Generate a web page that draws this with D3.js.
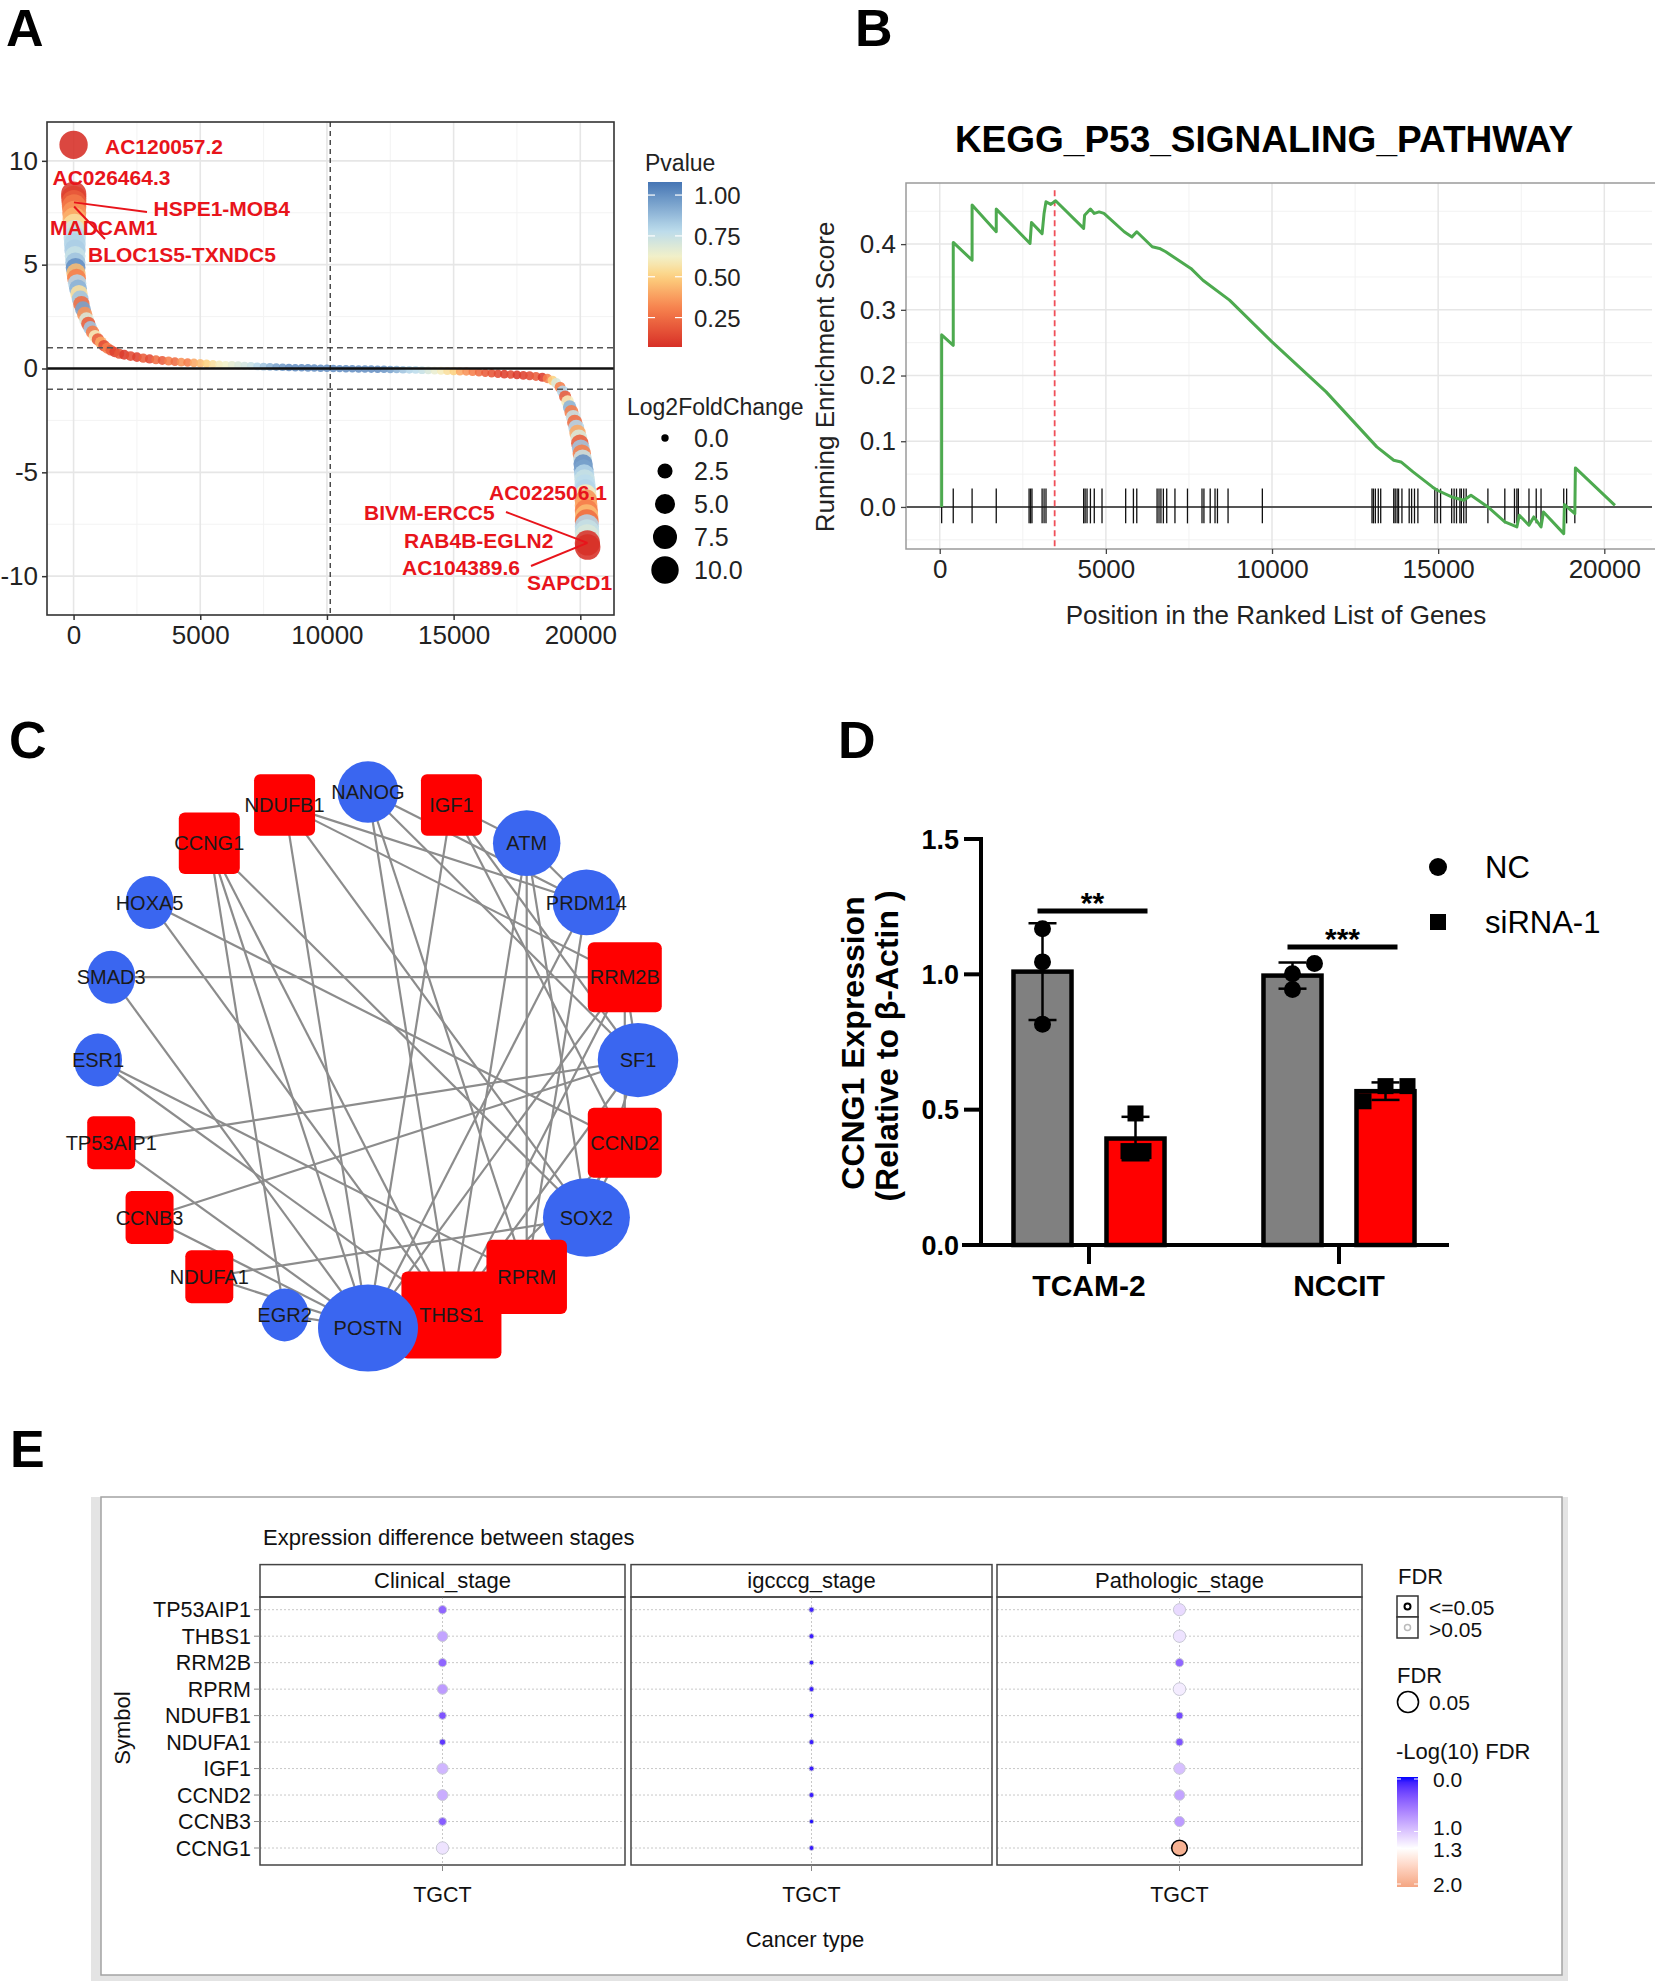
<!DOCTYPE html>
<html>
<head>
<meta charset="utf-8">
<script src="https://d3js.org/d3.v7.min.js"></script>
<style>
  body { margin: 0; background: #fff; }
  text { font-family: "Liberation Sans", Arial, Helvetica, sans-serif; }
</style>
</head>
<body>
<script>
// ---------- A: ranked log2 fold change ----------
var rankA = [0,5,10,15,20,25,30,35,40,45, 50,55,60,70,80,95,115,140,175,215,
  260,310,370,440,510,580,660,750,850,960, 1080,1200,1330,1470,1620,1800,2000,2250,2500,2750,
  3000,3250,3500,3750,4000,4250,4500,4750,5000,5250, 5500,5750,6000,6250,6500,6750,7000,7250,7500,7750,
  8000,8250,8500,8750,9000,9250,9500,9750,10000,10250, 10500,10750,11000,11250,11500,11750,12000,12250,12500,12750,
  13000,13250,13500,13750,14000,14250,14500,14750,15000,15250, 15500,15750,16000,16250,16500,16750,17000,17250,17500,17750,
  18000,18250,18500,18700,18900,19050,19200,19300,19400,19500, 19580,19650,19720,19780,19840,19890,19940,19980,20020,20060,
  20090,20110,20130,20150,20170,20185,20200,20210,20220,20230, 20240,20250,20255,20260,20265,20270,20280,20290];
var lfcA = [10.77,8.4,8.2,8.0,7.8,7.5,7.2,6.9,6.6,6.3, 6.0,5.7,5.4,5.1,4.85,4.6,4.35,4.1,3.85,3.6,
  3.35,3.1,2.85,2.6,2.35,2.15,1.95,1.75,1.55,1.4, 1.25,1.1,0.98,0.88,0.8,0.72,0.66,0.6,0.55,0.5,
  0.46,0.42,0.39,0.36,0.33,0.31,0.29,0.27,0.25,0.23, 0.21,0.19,0.17,0.16,0.15,0.13,0.12,0.1,0.09,0.08,
  0.07,0.06,0.05,0.04,0.035,0.03,0.02,0.015,0.01,0, -0.005,-0.01,-0.015,-0.02,-0.025,-0.03,-0.035,-0.04,-0.045,-0.05,
  -0.06,-0.065,-0.07,-0.08,-0.09,-0.1,-0.11,-0.12,-0.13,-0.14, -0.15,-0.17,-0.19,-0.21,-0.23,-0.25,-0.27,-0.29,-0.31,-0.33,
  -0.35,-0.38,-0.42,-0.48,-0.58,-0.7,-0.9,-1.1,-1.35,-1.6, -1.85,-2.1,-2.35,-2.6,-2.85,-3.1,-3.35,-3.6,-3.85,-4.1,
  -4.35,-4.6,-4.85,-5.1,-5.35,-5.6,-5.85,-6.1,-6.35,-6.6, -6.85,-7.1,-7.35,-7.6,-7.85,-8.1,-8.4,-8.6];
var pA = [0.06,0.1,0.12,0.2,0.28,0.35,0.42,0.55,0.72,0.78, 0.8,0.82,0.75,0.85,1.0,0.45,0.3,0.8,0.9,0.55,
  0.85,0.25,0.95,0.35,0.7,0.2,0.85,0.3,0.6,0.2, 0.4,0.15,0.3,0.2,0.12,0.18,0.1,0.15,0.12,0.2,
  0.15,0.25,0.2,0.3,0.25,0.35,0.3,0.4,0.45,0.5, 0.55,0.6,0.62,0.66,0.7,0.72,0.75,0.8,0.85,0.9,
  0.95,0.97,1,1,1,1,1,1,1,1, 1,1,1,1,1,1,1,0.98,0.95,0.9,
  0.85,0.8,0.78,0.75,0.7,0.65,0.6,0.55,0.5,0.4, 0.35,0.3,0.25,0.2,0.18,0.15,0.12,0.15,0.1,0.12,
  0.15,0.2,0.1,0.3,0.5,0.7,0.3,0.8,0.2,0.6, 0.9,0.3,0.75,0.25,0.8,0.4,0.7,0.2,0.85,0.3,
  0.75,1.0,0.95,0.8,0.75,0.78,0.8,0.6,0.35,0.4, 0.3,0.45,0.25,0.8,0.75,0.7,0.08,0.07];
var labelGeneA = ["AC120057.2","AC026464.3","HSPE1-MOB4","MADCAM1","BLOC1S5-TXNDC5",
  "AC022506.1","BIVM-ERCC5","RAB4B-EGLN2","AC104389.6","SAPCD1"];
var labelRankA = [0, 5, 15, 10, 20, 20280, 20280, 20280, 20280, 20290];
var labelLfcA = [10.77, 8.4, 8.0, 8.2, 7.8, -8.4, -8.4, -8.4, -8.4, -8.6];
var pvalTicks = [1.00, 0.75, 0.50, 0.25];
var sizeTicks = [0, 2.5, 5, 7.5, 10];

// ---------- B: GSEA running score ----------
var esX = [58,58,407,407,974,974,1701,1701,2718,2762,3081,3140,3198,3343,3488,4331,4360,4535,4651,4797,4942,
  5552,5785,5930,6395,6613,6802,7558,7921,8721,10000,11628,13154,13663,13881,14244,14826,14971,15407,15770,15988,
  16497,17006,17369,17442,17733,17878,18096,18169,18779,18800,19113,19130,20320];
var esY = [0,0.262,0.246,0.4025,0.3756,0.4594,0.4188,0.4533,0.401,0.433,0.416,0.4467,0.4645,0.4604,0.466,0.4239,0.444,0.4533,0.4467,0.449,0.4467,
  0.4188,0.411,0.4188,0.396,0.3934,0.3883,0.363,0.345,0.3147,0.2513,0.1751,0.0914,0.0711,0.0685,0.0533,0.0305,0.0254,0.0152,0.0102,0.0178,
  0,-0.0228,-0.0305,-0.0127,-0.0279,-0.0152,-0.0305,-0.0076,-0.0406,0.0036,-0.0102,0.0594,0.0025];
var hitsB = [58,407,974,1701,2689,2733,2776,3081,3140,3198,4331,4375,4433,4535,4651,4884,5596,5829,5930,
  6541,6599,6657,6730,6831,7079,7456,7893,7951,8140,8285,8358,8677,9709,13009,13052,13110,13198,13271,
  13663,13707,13765,13808,13910,14128,14201,14288,14390,14898,14971,15073,15407,15480,15552,15654,15698,
  15770,15843,16497,17006,17297,17369,17413,17733,17951,18096,18779,18866,19113];
var peakB = 3459;

// ---------- C: network ----------
var nodesC = ["NANOG","IGF1","ATM","PRDM14","RRM2B","SF1","CCND2","SOX2","RPRM","THBS1",
  "POSTN","EGR2","NDUFA1","CCNB3","TP53AIP1","ESR1","SMAD3","HOXA5","CCNG1","NDUFB1"];
var groupC = ["stem","p53","stem","stem","p53","stem","p53","stem","p53","p53",
  "stem","stem","p53","p53","p53","stem","stem","stem","p53","p53"];
var edgesC = [["HOXA5","CCND2"],["HOXA5","THBS1"],["SMAD3","RRM2B"],["SMAD3","POSTN"],["ESR1","RPRM"],
  ["ESR1","THBS1"],["TP53AIP1","SF1"],["TP53AIP1","POSTN"],["CCNB3","SF1"],["CCNB3","POSTN"],
  ["NDUFA1","SOX2"],["NDUFA1","POSTN"],["EGR2","POSTN"],["EGR2","CCNG1"],["NANOG","THBS1"],
  ["NANOG","RPRM"],["NANOG","PRDM14"],["NANOG","SF1"],["NDUFB1","POSTN"],["NDUFB1","SOX2"],
  ["NDUFB1","PRDM14"],["NDUFB1","RRM2B"],["IGF1","ATM"],["IGF1","POSTN"],["IGF1","SF1"],
  ["IGF1","CCND2"],["CCNG1","POSTN"],["CCNG1","SOX2"],["CCNG1","THBS1"],["ATM","THBS1"],
  ["ATM","RPRM"],["ATM","PRDM14"],["ATM","SOX2"],["PRDM14","POSTN"],["PRDM14","RPRM"],
  ["RRM2B","POSTN"],["RRM2B","THBS1"],["RRM2B","SF1"],["RRM2B","CCND2"],["SF1","SOX2"],
  ["CCND2","THBS1"],["CCND2","RPRM"],["CCND2","SOX2"],["SOX2","THBS1"],["RPRM","THBS1"],
  ["SF1","THBS1"],["RPRM","SOX2"]];

// ---------- D: qPCR ----------
var cellLines = ["TCAM-2","NCCIT"];
var treatments = ["NC","siRNA-1"];
var repD = {
  "TCAM-2": { "NC": [1.168, 1.046, 0.816], "siRNA-1": [0.486, 0.347, 0.347] },
  "NCCIT":  { "NC": [1.04, 1.002, 0.944],  "siRNA-1": [0.587, 0.587, 0.531] }
};
var sigD = ["**", "***"];
var sigLevelD = [1.234, 1.101];

// ---------- E: stage dot plot ----------
var genesE = ["TP53AIP1","THBS1","RRM2B","RPRM","NDUFB1","NDUFA1","IGF1","CCND2","CCNB3","CCNG1"];
var stagesE = ["Clinical_stage","igcccg_stage","Pathologic_stage"];
var logFdrClinical = [0.45,0.8,0.45,0.75,0.35,0.2,0.9,0.85,0.4,1.15];
var logFdrIgcccg = [0.1,0.08,0.06,0.08,0.07,0.08,0.08,0.08,0.03,0.07];
var logFdrPathologic = [1.1,1.15,0.45,1.2,0.3,0.35,0.95,0.8,0.75,1.9];
var fdrTicks = [0, 1.0, 1.3, 2.0];

var svg = d3.select("body").append("svg")
  .attr("width", 1655).attr("height", 1981);
svg.append("rect").attr("width", 1655).attr("height", 1981).attr("fill", "#fff");

// panel letters
[["A", 6, 46], ["B", 855, 46], ["C", 9, 758], ["D", 838, 758], ["E", 10, 1467]].forEach(function(l) {
  svg.append("text").attr("x", l[1]).attr("y", l[2]).text(l[0])
    .attr("font-size", 52).attr("font-weight", "bold").attr("fill", "#000");
});

// ================= PANEL A =================
var gA = svg.append("g");
var aX = d3.scaleLinear().domain([-1049, 21330]).range([47, 614]);
var aY = d3.scaleLinear().domain([-11.87, 11.87]).range([615, 122]);
var aR = d3.scaleRadial().domain([0, 10]).range([3.7, 13.7]);
var aC = d3.scaleLinear().domain([0.07, 0.3, 0.5, 0.62, 0.78, 1.08])
  .range(["#D73027", "#F67E4B", "#FDD17F", "#F3F1C8", "#BCDCEC", "#4575B4"]);

[2500, 7500, 12500, 17500].forEach(function(v) {
  gA.append("line").attr("x1", aX(v)).attr("x2", aX(v)).attr("y1", 122).attr("y2", 615)
    .attr("stroke", "#F3F3F3").attr("stroke-width", 1);
});
[-7.5, -2.5, 2.5, 7.5].forEach(function(v) {
  gA.append("line").attr("x1", 47).attr("x2", 614).attr("y1", aY(v)).attr("y2", aY(v))
    .attr("stroke", "#F3F3F3").attr("stroke-width", 1);
});
[0, 5000, 10000, 15000, 20000].forEach(function(v) {
  gA.append("line").attr("x1", aX(v)).attr("x2", aX(v)).attr("y1", 122).attr("y2", 615)
    .attr("stroke", "#E6E6E6").attr("stroke-width", 1.6);
});
[-10, -5, 0, 5, 10].forEach(function(v) {
  gA.append("line").attr("x1", 47).attr("x2", 614).attr("y1", aY(v)).attr("y2", aY(v))
    .attr("stroke", "#E6E6E6").attr("stroke-width", 1.6);
});

gA.selectAll("circle.pt").data(d3.range(rankA.length)).join("circle")
  .attr("class", "pt")
  .attr("cx", function(i) { return aX(rankA[i]); })
  .attr("cy", function(i) { return aY(lfcA[i]); })
  .attr("r", function(i) { return aR(Math.abs(lfcA[i])); })
  .attr("fill", function(i) { return aC(pA[i]); })
  .attr("fill-opacity", 0.88);

// threshold lines
[1, -1].forEach(function(v) {
  gA.append("line").attr("x1", 47).attr("x2", 614).attr("y1", aY(v)).attr("y2", aY(v))
    .attr("stroke", "#555").attr("stroke-width", 1.5).attr("stroke-dasharray", "6,4");
});
gA.append("line").attr("x1", aX(10130)).attr("x2", aX(10130)).attr("y1", 122).attr("y2", 615)
  .attr("stroke", "#333").attr("stroke-width", 1.3).attr("stroke-dasharray", "5,4");
gA.append("line").attr("x1", 47).attr("x2", 614).attr("y1", aY(0)).attr("y2", aY(0))
  .attr("stroke", "#111").attr("stroke-width", 2.5);
gA.append("rect").attr("x", 47).attr("y", 122).attr("width", 567).attr("height", 493)
  .attr("fill", "none").attr("stroke", "#333").attr("stroke-width", 1.6);

// axes
var axAL = gA.append("g").attr("transform", "translate(47,0)")
  .call(d3.axisLeft(aY).tickValues([-10, -5, 0, 5, 10]).tickSize(5).tickPadding(4)
    .tickFormat(function(d) { return String(d); }));
var axAB = gA.append("g").attr("transform", "translate(0,615)")
  .call(d3.axisBottom(aX).tickValues([0, 5000, 10000, 15000, 20000]).tickSize(5).tickPadding(6)
    .tickFormat(function(d) { return String(d); }));
[axAL, axAB].forEach(function(ax) {
  ax.select(".domain").remove();
  ax.selectAll("line").attr("stroke", "#333").attr("stroke-width", 1.5);
  ax.selectAll("text").attr("font-size", 26).attr("fill", "#222")
    .style("font-family", "'Liberation Sans', Arial, sans-serif");
});

// gene labels
var labelPosA = [[105, 153.5], [52.5, 184.5], [153.5, 215.5], [50, 235], [88, 262],
  [489, 500], [364, 519.5], [404, 548], [402, 575], [527, 589.5]];
var leaderA = { "HSPE1-MOB4": [147, 212], "BLOC1S5-TXNDC5": [105, 239], "BIVM-ERCC5": [506, 512], "AC104389.6": [531, 566] };
labelGeneA.forEach(function(g, i) {
  if (leaderA[g]) {
    gA.append("line").attr("x1", leaderA[g][0]).attr("y1", leaderA[g][1])
      .attr("x2", aX(labelRankA[i])).attr("y2", aY(labelLfcA[i]))
      .attr("stroke", "#E8141B").attr("stroke-width", 2);
  }
});
labelGeneA.forEach(function(g, i) {
  gA.append("text").attr("x", labelPosA[i][0]).attr("y", labelPosA[i][1]).text(g)
    .attr("font-size", 21).attr("font-weight", "bold").attr("fill", "#E8141B");
});

// Pvalue legend
var defs = svg.append("defs");
var pBar = d3.scaleLinear().domain([0.07, 1.08]).range([347, 182]);
var gradA = defs.append("linearGradient").attr("id", "gradP")
  .attr("x1", 0).attr("y1", 1).attr("x2", 0).attr("y2", 0);
d3.range(0, 1.0001, 0.05).forEach(function(t) {
  var v = 0.07 + t * (1.08 - 0.07);
  gradA.append("stop").attr("offset", t).attr("stop-color", aC(v));
});
gA.append("text").attr("x", 645).attr("y", 171).text("Pvalue").attr("font-size", 23).attr("fill", "#222");
gA.append("rect").attr("x", 648).attr("y", 182).attr("width", 34).attr("height", 165).attr("fill", "url(#gradP)");
pvalTicks.forEach(function(v) {
  gA.append("line").attr("x1", 648).attr("x2", 655).attr("y1", pBar(v)).attr("y2", pBar(v)).attr("stroke", "#fff").attr("stroke-width", 1.2);
  gA.append("line").attr("x1", 675).attr("x2", 682).attr("y1", pBar(v)).attr("y2", pBar(v)).attr("stroke", "#fff").attr("stroke-width", 1.2);
  gA.append("text").attr("x", 694).attr("y", pBar(v) + 9).text(v.toFixed(2))
    .attr("font-size", 24).attr("fill", "#222");
});
gA.append("text").attr("x", 627).attr("y", 415).text("Log2FoldChange").attr("font-size", 23).attr("fill", "#222");
sizeTicks.forEach(function(v, i) {
  var y = 438 + i * 33;
  gA.append("circle").attr("cx", 665).attr("cy", y).attr("r", aR(v)).attr("fill", "#000");
  gA.append("text").attr("x", 694).attr("y", y + 9).text(v.toFixed(1)).attr("font-size", 25).attr("fill", "#222");
});

// ================= PANEL B =================
var gB = svg.append("g");
var bX = d3.scaleLinear().domain([-1015, 21315]).range([906, 1648]);
var bY = d3.scaleLinear().domain([-0.064, 0.493]).range([549, 183]);
gB.append("text").attr("x", 1264).attr("y", 152).attr("text-anchor", "middle")
  .text("KEGG_P53_SIGNALING_PATHWAY").attr("font-size", 37).attr("font-weight", "bold").attr("fill", "#000");
[2500, 7500, 12500, 17500].forEach(function(v) {
  gB.append("line").attr("x1", bX(v)).attr("x2", bX(v)).attr("y1", 183).attr("y2", 549).attr("stroke", "#F2F2F2").attr("stroke-width", 1);
});
[-0.05, 0.05, 0.15, 0.25, 0.35, 0.45].forEach(function(v) {
  gB.append("line").attr("x1", 906).attr("x2", 1652).attr("y1", bY(v)).attr("y2", bY(v)).attr("stroke", "#F2F2F2").attr("stroke-width", 1);
});
[0, 5000, 10000, 15000, 20000].forEach(function(v) {
  gB.append("line").attr("x1", bX(v)).attr("x2", bX(v)).attr("y1", 183).attr("y2", 549).attr("stroke", "#E6E6E6").attr("stroke-width", 1.5);
});
[0.1, 0.2, 0.3, 0.4].forEach(function(v) {
  gB.append("line").attr("x1", 906).attr("x2", 1652).attr("y1", bY(v)).attr("y2", bY(v)).attr("stroke", "#E6E6E6").attr("stroke-width", 1.5);
});
gB.append("line").attr("x1", 906).attr("x2", 1652).attr("y1", bY(0)).attr("y2", bY(0))
  .attr("stroke", "#555").attr("stroke-width", 2);
gB.selectAll("line.hit").data(hitsB).join("line").attr("class", "hit")
  .attr("x1", function(d) { return bX(d); }).attr("x2", function(d) { return bX(d); })
  .attr("y1", bY(0.028)).attr("y2", bY(-0.025))
  .attr("stroke", "#111").attr("stroke-width", 1.3);
gB.append("line").attr("x1", bX(peakB)).attr("x2", bX(peakB)).attr("y1", bY(0.482)).attr("y2", 549)
  .attr("stroke", "#F0505A").attr("stroke-width", 1.8).attr("stroke-dasharray", "6,4");
gB.append("path").datum(d3.range(esX.length))
  .attr("d", d3.line().x(function(i) { return bX(esX[i]); }).y(function(i) { return bY(esY[i]); }))
  .attr("fill", "none").attr("stroke", "#4DAA4F").attr("stroke-width", 3).attr("stroke-linejoin", "round");
gB.append("rect").attr("x", 906).attr("y", 183).attr("width", 760).attr("height", 366)
  .attr("fill", "none").attr("stroke", "#9A9A9A").attr("stroke-width", 1.5);
var axBL = gB.append("g").attr("transform", "translate(906,0)")
  .call(d3.axisLeft(bY).tickValues([0, 0.1, 0.2, 0.3, 0.4]).tickSize(5).tickPadding(5).tickFormat(d3.format(".1f")));
var axBB = gB.append("g").attr("transform", "translate(0,549)")
  .call(d3.axisBottom(bX).tickValues([0, 5000, 10000, 15000, 20000]).tickSize(5).tickPadding(6)
    .tickFormat(function(d) { return String(d); }));
[axBL, axBB].forEach(function(ax) {
  ax.select(".domain").remove();
  ax.selectAll("line").attr("stroke", "#444").attr("stroke-width", 1.3);
  ax.selectAll("text").attr("font-size", 26).attr("fill", "#222")
    .style("font-family", "'Liberation Sans', Arial, sans-serif");
});
gB.append("text").attr("transform", "translate(834,377) rotate(-90)").attr("text-anchor", "middle")
  .text("Running Enrichment Score").attr("font-size", 26).attr("fill", "#222");
gB.append("text").attr("x", 1276).attr("y", 624).attr("text-anchor", "middle")
  .text("Position in the Ranked List of Genes").attr("font-size", 26).attr("fill", "#222");

// ================= PANEL C =================
var gC = svg.append("g");
var degC = {};
nodesC.forEach(function(n) { degC[n] = 0; });
edgesC.forEach(function(e) { degC[e[0]]++; degC[e[1]]++; });
var angC = d3.scaleLinear().domain([0, nodesC.length]).range([0, 2 * Math.PI]);
var posC = {};
nodesC.forEach(function(n, i) {
  posC[n] = [368 + 270 * Math.sin(angC(i)), 1060 - 268 * Math.cos(angC(i))];
});
var wC = d3.scaleLinear().domain([2, 10]).range([48, 100]);
var hC = d3.scaleLinear().domain([2, 10]).range([53, 87]);
gC.selectAll("line.edge").data(edgesC).join("line").attr("class", "edge")
  .attr("x1", function(e) { return posC[e[0]][0]; }).attr("y1", function(e) { return posC[e[0]][1]; })
  .attr("x2", function(e) { return posC[e[1]][0]; }).attr("y2", function(e) { return posC[e[1]][1]; })
  .attr("stroke", "#8C8C8C").attr("stroke-width", 2.2);
nodesC.forEach(function(n, i) {
  var p = posC[n], w = wC(degC[n]), h = hC(degC[n]);
  if (groupC[i] === "p53") {
    gC.append("rect").attr("x", p[0] - w / 2).attr("y", p[1] - h / 2).attr("width", w).attr("height", h)
      .attr("rx", 6).attr("fill", "#FF0000");
  } else {
    gC.append("ellipse").attr("cx", p[0]).attr("cy", p[1]).attr("rx", w / 2).attr("ry", h / 2)
      .attr("fill", "#3A66F0");
  }
});
nodesC.forEach(function(n) {
  gC.append("text").attr("x", posC[n][0]).attr("y", posC[n][1]).attr("dy", "0.36em")
    .attr("text-anchor", "middle").text(n).attr("font-size", 20).attr("fill", "#1A1A1A");
});

// ================= PANEL D =================
var gD = svg.append("g");
var dY = d3.scaleLinear().domain([0, 1.5]).range([1245, 839]);
var dX = d3.scaleBand().domain(cellLines).range([964, 1464]);
var dInner = d3.scaleBand().domain(treatments).range([-93, 93]).paddingInner(0.376).paddingOuter(0.188);
var fillD = { "NC": "#808080", "siRNA-1": "#FF0000" };
var jitterD = { "TCAM-2": { "NC": [0, 0, 0], "siRNA-1": [0, -7, 8] },
                "NCCIT":  { "NC": [22, 0, 0], "siRNA-1": [0, 22, -22] } };
cellLines.forEach(function(c) {
  treatments.forEach(function(t) {
    var vals = repD[c][t];
    var m = d3.mean(vals), sd = d3.deviation(vals);
    var x0 = dX(c) + dX.bandwidth() / 2 + dInner(t);
    var cx = x0 + dInner.bandwidth() / 2;
    gD.append("rect").attr("x", x0).attr("y", dY(m)).attr("width", dInner.bandwidth())
      .attr("height", dY(0) - dY(m)).attr("fill", fillD[t]).attr("stroke", "#000").attr("stroke-width", 4.5);
    gD.append("line").attr("x1", cx).attr("x2", cx).attr("y1", dY(m - sd)).attr("y2", dY(m + sd))
      .attr("stroke", "#000").attr("stroke-width", 2.5);
    [m - sd, m + sd].forEach(function(v) {
      gD.append("line").attr("x1", cx - 14).attr("x2", cx + 14).attr("y1", dY(v)).attr("y2", dY(v))
        .attr("stroke", "#000").attr("stroke-width", 2.5);
    });
    vals.forEach(function(v, k) {
      var px = cx + jitterD[c][t][k];
      if (t === "NC") {
        gD.append("circle").attr("cx", px).attr("cy", dY(v)).attr("r", 8.5).attr("fill", "#000");
      } else {
        gD.append("rect").attr("x", px - 8).attr("y", dY(v) - 8).attr("width", 16).attr("height", 16).attr("fill", "#000");
      }
    });
  });
});
gD.append("line").attr("x1", 981).attr("x2", 981).attr("y1", 837).attr("y2", 1247).attr("stroke", "#000").attr("stroke-width", 4);
gD.append("line").attr("x1", 962).attr("x2", 1449).attr("y1", 1245).attr("y2", 1245).attr("stroke", "#000").attr("stroke-width", 4);
[0, 0.5, 1.0, 1.5].forEach(function(v) {
  gD.append("line").attr("x1", 964).attr("x2", 981).attr("y1", dY(v)).attr("y2", dY(v)).attr("stroke", "#000").attr("stroke-width", 4);
  gD.append("text").attr("x", 959).attr("y", dY(v)).attr("dy", "0.36em").attr("text-anchor", "end")
    .text(v.toFixed(1)).attr("font-size", 27).attr("font-weight", "bold").attr("fill", "#000");
});
cellLines.forEach(function(c) {
  var cx = dX(c) + dX.bandwidth() / 2;
  gD.append("line").attr("x1", cx).attr("x2", cx).attr("y1", 1245).attr("y2", 1264).attr("stroke", "#000").attr("stroke-width", 4);
  gD.append("text").attr("x", cx).attr("y", 1296).attr("text-anchor", "middle").text(c)
    .attr("font-size", 30).attr("font-weight", "bold").attr("fill", "#000");
});
cellLines.forEach(function(c, i) {
  var cx = dX(c) + dX.bandwidth() / 2;
  var xa = cx + dInner("NC") + dInner.bandwidth() / 2 - 5;
  var xb = cx + dInner("siRNA-1") + dInner.bandwidth() / 2 + 12;
  gD.append("line").attr("x1", xa).attr("x2", xb).attr("y1", dY(sigLevelD[i])).attr("y2", dY(sigLevelD[i]))
    .attr("stroke", "#000").attr("stroke-width", 5);
  gD.append("text").attr("x", (xa + xb) / 2).attr("y", dY(sigLevelD[i]) + 2).attr("text-anchor", "middle")
    .text(sigD[i]).attr("font-size", 30).attr("font-weight", "bold").attr("fill", "#000");
});
gD.append("text").attr("transform", "translate(852,1043) rotate(-90)").attr("dy", "0.36em").attr("text-anchor", "middle")
  .text("CCNG1 Expression").attr("font-size", 32).attr("font-weight", "bold").attr("fill", "#000");
gD.append("text").attr("transform", "translate(886,1046) rotate(-90)").attr("dy", "0.36em").attr("text-anchor", "middle")
  .text("(Relative to \u03b2-Actin )").attr("font-size", 32).attr("font-weight", "bold").attr("fill", "#000");
gD.append("circle").attr("cx", 1438).attr("cy", 867).attr("r", 9).attr("fill", "#000");
gD.append("rect").attr("x", 1430).attr("y", 914).attr("width", 16).attr("height", 16).attr("fill", "#000");
treatments.forEach(function(t, i) {
  gD.append("text").attr("x", 1485).attr("y", 878 + i * 55).text(t).attr("font-size", 31).attr("fill", "#000");
});

// ================= PANEL E =================
var gE = svg.append("g");
gE.append("rect").attr("x", 91).attr("y", 1497).attr("width", 1477).attr("height", 484).attr("fill", "#E4E4E4");
gE.append("rect").attr("x", 101).attr("y", 1497).attr("width", 1461).attr("height", 478)
  .attr("fill", "#fff").attr("stroke", "#A3A3A3").attr("stroke-width", 1.5);
gE.append("text").attr("x", 263).attr("y", 1545).text("Expression difference between stages")
  .attr("font-size", 22).attr("fill", "#111");
var eY = d3.scalePoint().domain(genesE).range([1609.7, 1848]);
var eR = d3.scaleRadial().domain([0, 2]).range([2, 8]);
var eC = d3.scaleLinear().domain([0, 1.3, 2]).range(["#0000FF", "#FFFFFF", "#F4A582"]).interpolate(d3.interpolateLab);
var panelX = [[260, 625], [631, 992], [997, 1362]];
var stageVals = [logFdrClinical, logFdrIgcccg, logFdrPathologic];
stagesE.forEach(function(s, k) {
  var x0 = panelX[k][0], x1 = panelX[k][1], cx = (x0 + x1) / 2;
  gE.append("rect").attr("x", x0).attr("y", 1564.6).attr("width", x1 - x0).attr("height", 32.4)
    .attr("fill", "#fff").attr("stroke", "#444").attr("stroke-width", 1.5);
  gE.append("text").attr("x", cx).attr("y", 1588).attr("text-anchor", "middle").text(s)
    .attr("font-size", 22).attr("fill", "#111");
  genesE.forEach(function(g) {
    gE.append("line").attr("x1", x0).attr("x2", x1).attr("y1", eY(g)).attr("y2", eY(g))
      .attr("stroke", "#C8C8C8").attr("stroke-width", 1).attr("stroke-dasharray", "2,2");
  });
  gE.append("line").attr("x1", cx).attr("x2", cx).attr("y1", 1597).attr("y2", 1865)
    .attr("stroke", "#C8C8C8").attr("stroke-width", 1).attr("stroke-dasharray", "2,2");
  gE.append("rect").attr("x", x0).attr("y", 1597).attr("width", x1 - x0).attr("height", 268)
    .attr("fill", "none").attr("stroke", "#444").attr("stroke-width", 1.5);
  genesE.forEach(function(g, j) {
    var v = stageVals[k][j];
    gE.append("circle").attr("cx", cx).attr("cy", eY(g)).attr("r", eR(v))
      .attr("fill", eC(v)).attr("stroke", v >= 1.3 ? "#000" : "#C9C9D6").attr("stroke-width", v >= 1.3 ? 1.5 : 1);
  });
  gE.append("line").attr("x1", cx).attr("x2", cx).attr("y1", 1865).attr("y2", 1871).attr("stroke", "#888").attr("stroke-width", 1);
  gE.append("text").attr("x", cx).attr("y", 1902).attr("text-anchor", "middle").text("TGCT")
    .attr("font-size", 21.5).attr("fill", "#111");
});
genesE.forEach(function(g) {
  gE.append("line").attr("x1", 254).attr("x2", 260).attr("y1", eY(g)).attr("y2", eY(g)).attr("stroke", "#888").attr("stroke-width", 1);
  gE.append("text").attr("x", 251).attr("y", eY(g)).attr("dy", "0.36em").attr("text-anchor", "end")
    .text(g).attr("font-size", 21.5).attr("fill", "#111");
});
gE.append("text").attr("transform", "translate(122,1728) rotate(-90)").attr("dy", "0.36em").attr("text-anchor", "middle")
  .text("Symbol").attr("font-size", 22).attr("fill", "#111");
gE.append("text").attr("x", 805).attr("y", 1947).attr("text-anchor", "middle").text("Cancer type")
  .attr("font-size", 22).attr("fill", "#111");

// legends E
gE.append("text").attr("x", 1398).attr("y", 1584).text("FDR").attr("font-size", 22).attr("fill", "#111");
gE.append("rect").attr("x", 1397).attr("y", 1596).attr("width", 21).attr("height", 21).attr("fill", "#fff").attr("stroke", "#333").attr("stroke-width", 1.5);
gE.append("rect").attr("x", 1397).attr("y", 1617).attr("width", 21).attr("height", 21).attr("fill", "#fff").attr("stroke", "#333").attr("stroke-width", 1.5);
gE.append("circle").attr("cx", 1407.5).attr("cy", 1606.5).attr("r", 3).attr("fill", "#fff").attr("stroke", "#000").attr("stroke-width", 2);
gE.append("circle").attr("cx", 1407.5).attr("cy", 1627.5).attr("r", 3).attr("fill", "#fff").attr("stroke", "#BBB").attr("stroke-width", 1.5);
gE.append("text").attr("x", 1429).attr("y", 1615).text("<=0.05").attr("font-size", 21).attr("fill", "#111");
gE.append("text").attr("x", 1429).attr("y", 1637).text(">0.05").attr("font-size", 21).attr("fill", "#111");
gE.append("text").attr("x", 1397).attr("y", 1683).text("FDR").attr("font-size", 22).attr("fill", "#111");
gE.append("circle").attr("cx", 1408).attr("cy", 1702).attr("r", 10.5).attr("fill", "none").attr("stroke", "#000").attr("stroke-width", 1.6);
gE.append("text").attr("x", 1429).attr("y", 1710).text("0.05").attr("font-size", 21).attr("fill", "#111");
gE.append("text").attr("x", 1396).attr("y", 1759).text("-Log(10) FDR").attr("font-size", 22).attr("fill", "#111");
var fBar = d3.scaleLinear().domain([0, 2]).range([1779, 1884]);
var fLab = d3.scaleLinear().domain([0, 1, 1.3, 2]).range([1779, 1827, 1849, 1884]);
var gradE = defs.append("linearGradient").attr("id", "gradF").attr("x1", 0).attr("y1", 0).attr("x2", 0).attr("y2", 1);
d3.range(0, 1.0001, 0.05).forEach(function(t) {
  gradE.append("stop").attr("offset", t).attr("stop-color", eC(t * 2));
});
gE.append("rect").attr("x", 1397).attr("y", 1777).attr("width", 21).attr("height", 110).attr("fill", "url(#gradF)");
fdrTicks.forEach(function(v) {
  gE.append("line").attr("x1", 1397).attr("x2", 1401).attr("y1", fBar(v)).attr("y2", fBar(v)).attr("stroke", "#fff");
  gE.append("line").attr("x1", 1414).attr("x2", 1418).attr("y1", fBar(v)).attr("y2", fBar(v)).attr("stroke", "#fff");
  gE.append("text").attr("x", 1433).attr("y", fLab(v)).attr("dy", "0.36em").text(v.toFixed(1))
    .attr("font-size", 21).attr("fill", "#111");
});
</script>
</body>
</html>
